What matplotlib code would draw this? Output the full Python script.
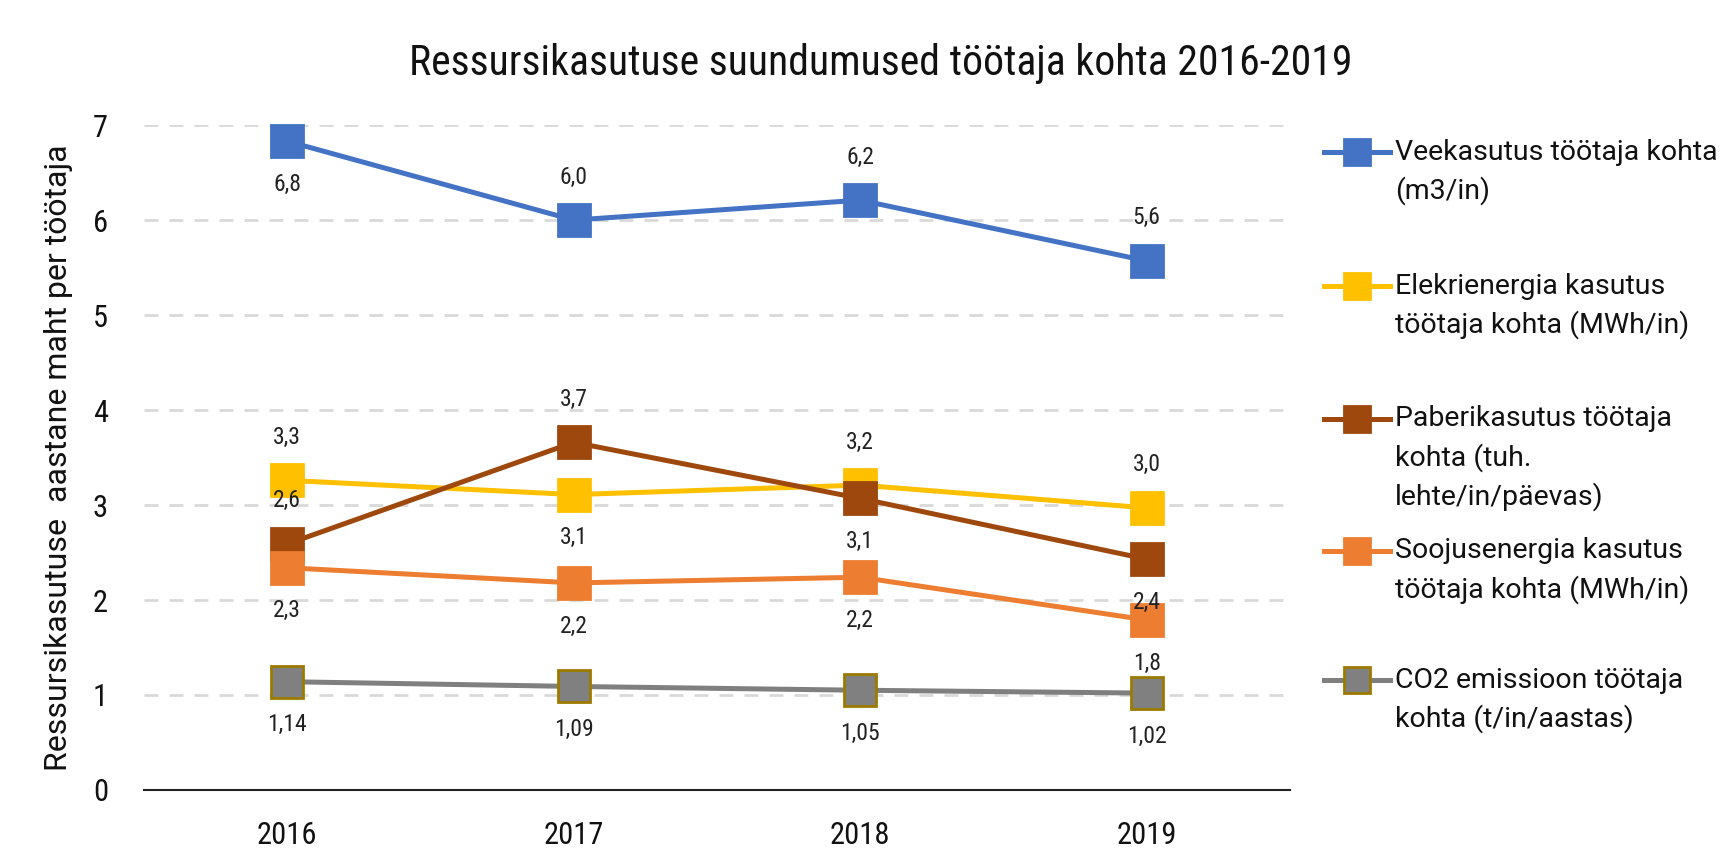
import matplotlib
matplotlib.use("Agg")
import matplotlib.pyplot as plt
from matplotlib.lines import Line2D
from matplotlib import font_manager as fm

years = ["2016", "2017", "2018", "2019"]
series_names = [
    "Veekasutus töötaja kohta\n(m3/in)",
    "Elekrienergia kasutus\ntöötaja kohta (MWh/in)",
    "Paberikasutus töötaja\nkohta (tuh.\nlehte/in/päevas)",
    "Soojusenergia kasutus\ntöötaja kohta (MWh/in)",
    "CO2 emissioon töötaja\nkohta (t/in/aastas)",
]
vee = [6.83, 6.0, 6.21, 5.57]
elekter = [3.26, 3.11, 3.21, 2.97]
paber = [2.59, 3.66, 3.07, 2.43]
soojus = [2.34, 2.18, 2.24, 1.79]
co2 = [1.14, 1.09, 1.05, 1.02]
decimals = [1, 1, 1, 1, 2]

colors = ["#4472C4", "#FFC000", "#9E480E", "#ED7D31", "#7F7F7F"]
edge_colors = ["#4472C4", "#FFC000", "#9E480E", "#ED7D31", "#9C7A00"]
face_colors = ["#4472C4", "#FFC000", "#9E480E", "#ED7D31", "#808080"]
placement = [
    [-1, 1, 1, 1],
    [1, -1, 1, 1],
    [1, 1, -1, -1],
    [-1, -1, -1, -1],
    [-1, -1, -1, -1],
]

avail = {f.name for f in fm.fontManager.ttflist}
pref_narrow = ["Roboto Condensed", "Archivo Narrow", "Barlow Semi Condensed",
               "Fira Sans Condensed", "IBM Plex Sans Condensed"]
narrow = [f for f in pref_narrow if f in avail][:1] + [f for f in ["Roboto", "DejaVu Sans"] if f in avail]
regular = [f for f in ["Roboto", "DejaVu Sans"] if f in avail]

W, H = 1736.0, 851.0
fig = plt.figure(figsize=(W / 100, H / 100), dpi=100)
fig.patch.set_facecolor("white")
ax = fig.add_axes([0.083, 0.0717, 0.66, 0.7813])

data = [vee, elekter, paber, soojus, co2]
x = list(range(len(years)))
for i, vals in enumerate(data):
    ax.plot(x, vals, color=colors[i], lw=3.6, marker="s", ms=23.5,
            markerfacecolor=face_colors[i], markeredgecolor=edge_colors[i],
            markeredgewidth=2, zorder=3, clip_on=False, solid_capstyle="butt")
    for j, v in enumerate(vals):
        txt = f"{v:.{decimals[i]}f}".replace(".", ",")
        off = 31 * placement[i][j]
        ax.annotate(txt, (x[j], v), xytext=(0, off), textcoords="offset points",
                    ha="center", va="center", fontsize=17, color="#222222",
                    family=narrow, zorder=4)

ax.set_xlim(-0.5, 3.5)
ax.set_ylim(0, 7)
ax.set_xticks(x)
ax.set_xticklabels(years)
ax.set_yticks(range(0, 8))
for lab in ax.get_xticklabels() + ax.get_yticklabels():
    lab.set_family(narrow)
    lab.set_fontsize(22)
    lab.set_color("#111111")
ax.tick_params(axis="both", length=0)
ax.tick_params(axis="x", pad=22)
ax.tick_params(axis="y", pad=26)
for s in ["top", "right", "left"]:
    ax.spines[s].set_visible(False)
ax.spines["bottom"].set_color("#222222")
ax.spines["bottom"].set_linewidth(1.5)
ax.yaxis.grid(True, color="#D9D9D9", linestyle=(0, (5, 4)), linewidth=2)
ax.set_axisbelow(True)
ax.yaxis.get_gridlines()[0].set_visible(False)

ax.set_ylabel("Ressursikasutuse  aastane maht per töötaja", fontsize=23,
              family=regular, color="#111111", labelpad=14)

title = fig.text(881 / W, 1 - 64 / H, "Ressursikasutuse suundumused töötaja kohta 2016-2019",
                 ha="center", va="center", fontsize=26, family=narrow, color="#111111")
fig.canvas.draw()
tw = title.get_window_extent().width
title.set_fontsize(26 * 943.0 / tw)

# legend drawn manually so the marker lines up with the first text line
entry_y = [152, 286, 419, 551, 680]
line_h = 39
for i, name in enumerate(series_names):
    yf = 1 - entry_y[i] / H
    fig.add_artist(Line2D([1324 / W, 1390 / W], [yf, yf], color=colors[i], lw=3.6,
                          transform=fig.transFigure))
    fig.add_artist(Line2D([1357 / W], [yf], marker="s", ms=19, color=colors[i],
                          markerfacecolor=face_colors[i], markeredgecolor=edge_colors[i],
                          markeredgewidth=2, transform=fig.transFigure))
    for k, ln in enumerate(name.split("\n")):
        fig.text(1395 / W, 1 - (entry_y[i] + k * line_h) / H, ln, ha="left", va="center",
                 fontsize=20.5, family=regular, color="#111111")

fig.savefig("out.png", dpi=100, facecolor="white")
